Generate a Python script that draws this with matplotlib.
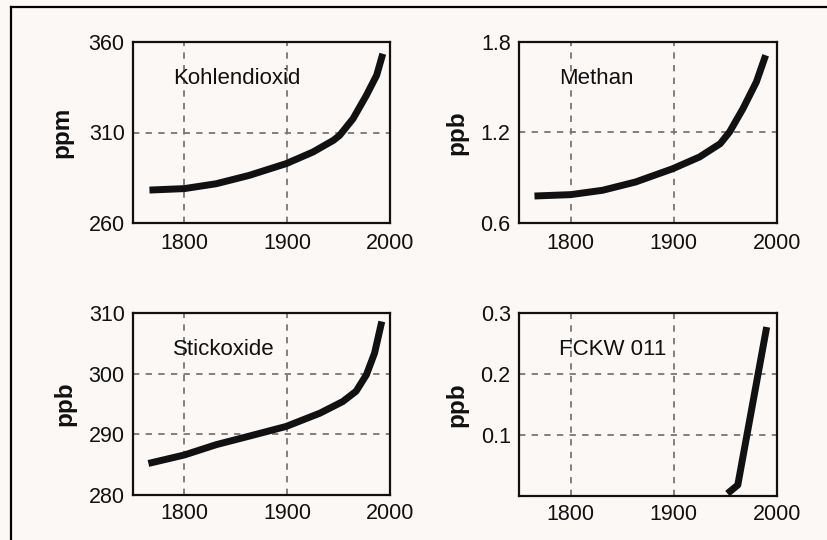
import matplotlib
matplotlib.use("Agg")
import matplotlib.pyplot as plt
from matplotlib.lines import Line2D

plt.rcParams['font.family'] = ['Liberation Sans', 'DejaVu Sans']

# Data
co2_years = [1766, 1800, 1831, 1863, 1899, 1925, 1945, 1951, 1964, 1977, 1987, 1993]
co2_vals = [278.2, 279.0, 281.7, 286.3, 292.8, 299.2, 305.7, 308.4, 317.6, 330.5, 341.6, 353.5]

ch4_years = [1765, 1800, 1831, 1863, 1899, 1925, 1945, 1954, 1967, 1980, 1989]
ch4_vals = [0.779, 0.788, 0.817, 0.872, 0.960, 1.038, 1.126, 1.203, 1.358, 1.535, 1.712]

n2o_years = [1765, 1800, 1831, 1863, 1899, 1932, 1954, 1967, 1977, 1985, 1992]
n2o_vals = [285.2, 286.6, 288.3, 289.7, 291.3, 293.5, 295.4, 297.1, 299.8, 303.4, 308.6]

cfc_years = [1952, 1962, 1990]
cfc_vals = [0.004, 0.018, 0.277]

panels = [
    ("Kohlendioxid", "ppm", co2_years, co2_vals, (260, 360), [260, 310, 360], ["260", "310", "360"], 11),
    ("Methan", "ppb", ch4_years, ch4_vals, (0.6, 1.8), [0.6, 1.2, 1.8], ["0.6", "1.2", "1.8"], 9),
    ("Stickoxide", "ppb", n2o_years, n2o_vals, (280, 310), [280, 290, 300, 310], ["280", "290", "300", "310"], 9),
    ("FCKW 011", "ppb", cfc_years, cfc_vals, (0, 0.3), [0.1, 0.2, 0.3], ["0.1", "0.2", "0.3"], 9),
]
x_ticks = [1800, 1900, 2000]

bg = '#fbf8f6'
fig = plt.figure(figsize=(8.27, 5.40), dpi=100, facecolor=bg)
W, H = 827, 540
rects = [(133, 42, 390, 223), (519, 42, 777, 223), (133, 313, 390, 495), (519, 313, 777, 496)]
xpads = [7.5, 7.5, 6, 6]

for (name, unit, xs, ys, ylim, yt, ytl, lp), (l, t, r, b), xp in zip(panels, rects, xpads):
    ax = fig.add_axes([l / W, 1 - b / H, (r - l) / W, (b - t) / H])
    ax.set_facecolor(bg)
    ax.plot(xs, ys, color='#111111', lw=5.0, solid_capstyle='butt', solid_joinstyle='round', zorder=3)
    ax.set_xlim(1750, 2000)
    ax.set_ylim(*ylim)
    ax.set_xticks(x_ticks)
    ax.set_xticklabels([str(v) for v in x_ticks])
    ax.set_yticks(yt)
    ax.set_yticklabels(ytl)
    ax.tick_params(length=0, labelsize=15.5, colors='#111111')
    ax.tick_params(axis='y', pad=6)
    ax.tick_params(axis='x', pad=xp)
    ax.grid(True, color='#777777', lw=1.3, ls=(0, (3.5, 3.5)))
    for s in ax.spines.values():
        s.set_linewidth(1.6)
        s.set_color('#111111')
    ax.text(0.155, 0.80, name, transform=ax.transAxes, fontsize=16, color='#111111', va='center', ha='left')
    ax.set_ylabel(unit, fontsize=17.5, fontweight='bold', color='#111111', labelpad=lp)

# page frame lines
fig.add_artist(Line2D([11 / W, 11 / W], [0, 1 - 7 / H], color='black', lw=1.6, transform=fig.transFigure))
fig.add_artist(Line2D([11 / W, 1], [1 - 7 / H, 1 - 7 / H], color='black', lw=1.6, transform=fig.transFigure))

fig.savefig('out.png', dpi=100, facecolor=bg)
